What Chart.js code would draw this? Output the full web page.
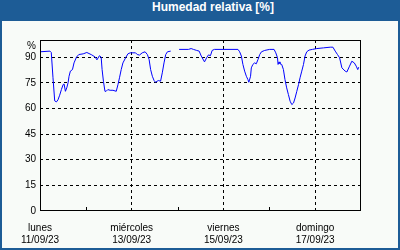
<!DOCTYPE html>
<html>
<head>
<meta charset="utf-8">
<script src="https://cdn.jsdelivr.net/npm/chart.js@4"></script>
<style>
body{margin:0}
#marco{position:relative;width:400px;height:250px;background:#1d5c96;overflow:hidden}
#titulo{position:absolute;left:0;top:0;width:426px;height:21px;line-height:21px;text-align:center;color:#fff;font:bold 12px "Liberation Sans",sans-serif}
#fondo{position:absolute;left:2px;top:21px;right:2px;bottom:2px;background:#f8fbf8}
#chart{position:absolute;left:0;top:0}
</style>
</head>
<body>
<div id="marco">
<div id="titulo">Humedad relativa [%]</div>
<div id="fondo"></div>
<canvas id="chart" width="400" height="250"></canvas>
</div>
<script>

// horas desde lunes 11/09/23 00:00
const horas = [0,5.2,5.9,6.8,7.7,8.6,9.4,10.3,11.2,12.1,12.6,13.3,14,14.7,15.2,15.9,17,17.8,19.1,20.3,22.6,24.5,27.1,28.9,29.8,31.1,32,32.5,33.2,34,34.6,35.5,36.7,38.2,39.9,40.8,41.6,42.5,43.4,44.8,46,47.2,50,50.9,52.1,53.5,55,56.2,57.1,57.9,58.8,59.7,60.5,61.9,63.1,64,64.9,65.8,66.7,68.4,70,72.8,77.7,79.1,80.3,82,83.3,84.4,86.1,87.4,88.2,89.2,90.1,91.3,103.6,104.5,105.4,106.2,107.1,108,108.8,109.3,110.2,110.6,111.4,112.3,113.2,114.1,115,115.9,117.6,120.2,122.5,123.4,124.3,124.6,125.1,125.6,126.5,127.4,128.2,129.1,130,130.9,131.8,132.7,133.5,134.4,135.3,136.1,137,137.9,138.7,139.6,140.8,142.6,144.9,148.4,151.9,153.3,154.5,155.7,156.8,158,159.7,160.6,162,163.2,164.5,165.5,166.3,166.8]

const humedad = [93.1,93.5,92.7,77.9,64.4,63.8,65,67.7,71,73.9,74.3,70,72,75,78.8,81.8,82.7,86.6,90,91.5,91.9,92.7,91.3,90,88.4,90.8,90,82.7,75.9,70,70,71,70.6,70.6,70,73.9,77.9,82.7,86.6,89.6,91.9,92.5,92.5,91.5,91.2,92.5,93.1,91.5,88.6,82.7,78.8,76.3,75.3,76.3,75.9,80.8,86.6,91.5,93.1,93.5,null,94.5,94.5,95,94.5,93.9,93.5,90.6,87.2,90,91.3,90.8,93.9,94.5,94.5,93.1,90.6,85.7,81.8,78.8,76.9,75.3,78.8,83.7,85.7,86.6,86.1,88.6,91.5,93.1,93.9,94.5,94.5,92.5,89.6,85.7,87.2,86.1,85.7,82.7,76.9,72,68.1,64.2,62.2,63.2,66.1,70,73.9,77.9,81.8,85.7,90.6,93.1,94.1,94.5,95,95.4,95.8,95.8,93.5,91.5,89.6,83.7,81.8,81.3,84.7,87.6,86.6,84.7,82.7,84.1]

const ticksX = [0,24,48,72,96,120,144,168]
const lineasX = [48,96,144]
const marcasX = [24,72,120]
const etiquetasHoras = [0,48,96,144]
const dias = ["lunes","miércoles","viernes","domingo"]
const fechas = ["11/09/23","13/09/23","15/09/23","17/09/23"]
const ticksY = [0,15,30,45,60,75,90]

const fuente = {family:"Liberation Sans",size:10}

const marco = {
id:"marco",
afterDraw(c){
const ctx=c.ctx, a=c.chartArea, sx=c.scales.x, sy=c.scales.y
ctx.save()
ctx.strokeStyle="#000"
ctx.lineWidth=1
ctx.setLineDash([])
ctx.strokeRect(a.left+0.5,a.top+0.5,a.right-a.left-1,a.bottom-a.top-1)
marcasX.forEach(h=>{
const x=Math.round(sx.getPixelForValue(h))+0.5
ctx.beginPath()
ctx.moveTo(x,a.bottom-1)
ctx.lineTo(x,a.bottom-4)
ctx.stroke()
})
ctx.fillStyle="#000"
ctx.font="10px 'Liberation Sans'"
ctx.textAlign="right"
ctx.textBaseline="middle"
ctx.fillText("%",a.left-4,sy.getPixelForValue(100)+6)
ctx.restore()
}
}

const puntos = horas.map((h,i)=>({x:h,y:humedad[i]}))

new Chart(document.getElementById("chart"),{
type:"line",
data:{
datasets:[{
data:puntos,
borderColor:"#0000ff",
borderWidth:1,
pointRadius:0,
tension:0,
spanGaps:false
}]
},
options:{
responsive:false,
animation:false,
devicePixelRatio:1,
layout:{padding:{left:0,right:39,top:40,bottom:0}},
plugins:{legend:{display:false},tooltip:{enabled:false}},
scales:{
x:{
type:"linear",
min:0,max:168,
afterBuildTicks:s=>{s.ticks=ticksX.map(v=>({value:v}))},
afterFit:s=>{s.height=39},
border:{display:false,dash:[3,3]},
grid:{
drawTicks:false,
lineWidth:1,
color:ctx=>ctx.tick && lineasX.includes(ctx.tick.value)?"#000":"rgba(0,0,0,0)"
},
ticks:{
autoSkip:false,maxRotation:0,padding:11,color:"#000",font:fuente,
callback:v=>{
const i=etiquetasHoras.indexOf(v)
return i<0?"":[dias[i],fechas[i]]
}
}
},
y:{
min:0,max:100,
afterBuildTicks:s=>{s.ticks=ticksY.map(v=>({value:v}))},
afterFit:s=>{s.width=40},
border:{display:false,dash:[3,3]},
grid:{
drawTicks:false,
lineWidth:1,
color:ctx=>ctx.tick && ctx.tick.value>0?"#000":"rgba(0,0,0,0)"
},
ticks:{padding:4,color:"#000",font:fuente}
}
}
},
plugins:[marco]
})

</script>
</body>
</html>
